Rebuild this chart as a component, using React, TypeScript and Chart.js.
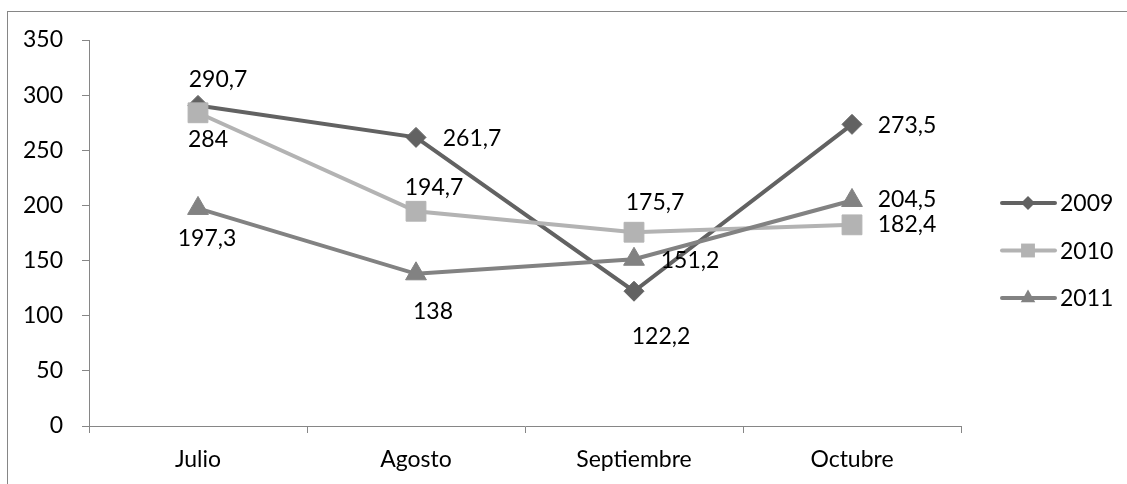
import React, { useEffect, useRef } from 'react';
import Chart from 'chart.js/auto';

const months = ['Julio', 'Agosto', 'Septiembre', 'Octubre'];
const years = ['2009', '2010', '2011'];
const values2009 = [290.7, 261.7, 122.2, 273.5];
const values2010 = [284, 194.7, 175.7, 182.4];
const values2011 = [197.3, 138, 151.2, 204.5];
const yMin = 0;
const yMax = 350;
const yStep = 50;

const AXIS_GRAY = '#868686';
const FONT = 'Lato';
const FONT_SIZE = 23;

// label centre offsets relative to each point (px)
const labelOffsets: number[][][] = [
    [[20, -26], [56, 1], [27, 45], [55, 1]],
    [[10, 27], [18, -24], [21, -30], [55, 0]],
    [[9, 30], [17, 38], [56, 1], [55, -1]],
];

const seriesStyles = [
    { color: '#626262', pointStyle: 'rectRot', radius: 10 },
    { color: '#b3b3b3', pointStyle: 'rect', radius: 14 },
    { color: '#828282', pointStyle: 'triangle', radius: 12 },
];

const drawMarker = (ctx: CanvasRenderingContext2D, style: string, x: number, y: number, r: number) => {
    ctx.beginPath();
    if (style === 'rectRot') {
        ctx.moveTo(x - r, y);
        ctx.lineTo(x, y - r);
        ctx.lineTo(x + r, y);
        ctx.lineTo(x, y + r);
    } else if (style === 'rect') {
        const s = Math.SQRT1_2 * r;
        ctx.rect(x - s, y - s, 2 * s, 2 * s);
    } else {
        ctx.moveTo(x, y - r);
        ctx.lineTo(x + 0.866 * r, y + 0.5 * r);
        ctx.lineTo(x - 0.866 * r, y + 0.5 * r);
    }
    ctx.closePath();
    ctx.fill();
};

const excelDecor = {
    id: 'excelDecor',
    afterDatasetsDraw(chart: any) {
        const ctx: CanvasRenderingContext2D = chart.ctx;
        ctx.save();
        ctx.font = `${FONT_SIZE}px ${FONT}`;
        ctx.fillStyle = '#000';
        ctx.textAlign = 'center';
        ctx.textBaseline = 'middle';
        chart.data.datasets.forEach((ds: any, i: number) => {
            const meta = chart.getDatasetMeta(i);
            meta.data.forEach((pt: any, j: number) => {
                const [dx, dy] = labelOffsets[i][j];
                const text = String(ds.data[j]).replace('.', ',');
                ctx.fillText(text, pt.x + dx, pt.y + dy);
            });
        });
        ctx.restore();
    },
    afterDraw(chart: any) {
        const ctx: CanvasRenderingContext2D = chart.ctx;
        ctx.save();
        // outer frame
        ctx.strokeStyle = AXIS_GRAY;
        ctx.lineWidth = 1;
        ctx.strokeRect(7.5, 11.5, chart.width, chart.height);

        // legend
        const legendX = 1000;
        const legendTop = 203;
        const legendGap = 47.5;
        ctx.font = `${FONT_SIZE}px ${FONT}`;
        ctx.textBaseline = 'middle';
        ctx.textAlign = 'left';
        years.forEach((label, i) => {
            const st = seriesStyles[i];
            const y = legendTop + i * legendGap;
            ctx.strokeStyle = st.color;
            ctx.fillStyle = st.color;
            ctx.lineWidth = 4;
            ctx.lineCap = 'round';
            ctx.beginPath();
            ctx.moveTo(legendX + 2, y);
            ctx.lineTo(legendX + 55, y);
            ctx.stroke();
            drawMarker(ctx, st.pointStyle, legendX + 28, y, st.radius * 0.7);
            ctx.fillStyle = '#000';
            ctx.fillText(label, legendX + 60, y + 1);
        });
        ctx.restore();
    },
};

const App: React.FC = () => {
    const chartRef = useRef<HTMLCanvasElement>(null);
    const chartInstance = useRef<Chart | null>(null);

    useEffect(() => {
        if (!chartRef.current) return;
        if (chartInstance.current) chartInstance.current.destroy();

        Chart.defaults.font.family = FONT;
        Chart.defaults.font.size = FONT_SIZE;
        Chart.defaults.color = '#000';

        const allValues = [values2009, values2010, values2011];

        chartInstance.current = new Chart(chartRef.current, {
            type: 'line',
            data: {
                labels: months,
                datasets: years.map((y, i) => ({
                    label: y,
                    data: allValues[i],
                    borderColor: seriesStyles[i].color,
                    backgroundColor: seriesStyles[i].color,
                    borderWidth: 4,
                    pointStyle: seriesStyles[i].pointStyle as any,
                    pointRadius: seriesStyles[i].radius,
                    pointBackgroundColor: seriesStyles[i].color,
                    pointBorderColor: seriesStyles[i].color,
                    pointBorderWidth: 1,
                    tension: 0,
                    order: 3 - i,
                })),
            },
            options: {
                animation: false,
                responsive: true,
                maintainAspectRatio: false,
                layout: { padding: { top: 40, right: 166, left: 0, bottom: 0 } },
                plugins: {
                    legend: { display: false },
                    tooltip: { enabled: false },
                },
                scales: {
                    x: {
                        offset: true,
                        grid: {
                            offset: true,
                            drawOnChartArea: false,
                            tickLength: 7,
                            color: AXIS_GRAY,
                        },
                        border: { color: AXIS_GRAY, width: 1 },
                        ticks: { padding: 13, maxRotation: 0 },
                        afterFit: (scale: any) => { scale.height = 58; },
                    },
                    y: {
                        min: yMin,
                        max: yMax,
                        ticks: { stepSize: yStep, padding: 19 },
                        grid: {
                            drawOnChartArea: false,
                            tickLength: 7,
                            color: AXIS_GRAY,
                        },
                        border: { color: AXIS_GRAY, width: 1 },
                        afterFit: (scale: any) => { scale.width = 89; },
                    },
                },
            },
            plugins: [excelDecor],
        });

        return () => {
            if (chartInstance.current) {
                chartInstance.current.destroy();
                chartInstance.current = null;
            }
        };
    }, []);

    return (
        <div style={{ position: 'fixed', left: 0, top: 0, width: 1127, height: 484, background: '#fff' }}>
            <canvas ref={chartRef} id="ventasMensualesChart"></canvas>
        </div>
    );
};

export default App;
